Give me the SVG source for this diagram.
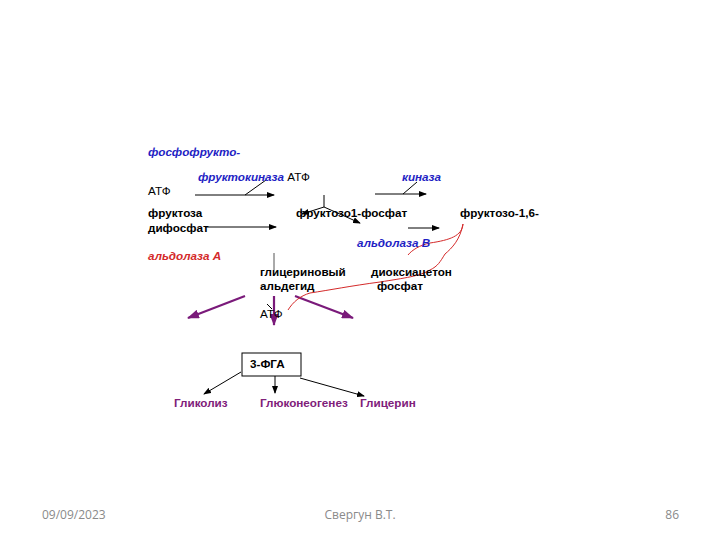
<svg xmlns="http://www.w3.org/2000/svg" width="720" height="540" viewBox="0 0 720 540">
<defs>
<style>
.t{font-family:"Liberation Sans",Arial,sans-serif;font-size:11.7px;fill:#000}
.b{font-weight:bold}
.enz{font-weight:bold;font-style:italic;fill:#1f1fc4}
.red{font-weight:bold;font-style:italic;fill:#d42a2a}
.pur{font-weight:bold;fill:#80207a}
.foot{font-family:"Open Sans","Liberation Sans",sans-serif;font-size:12px;fill:#8a8a8a}
.ln{stroke:#000;stroke-width:1;fill:none}
.pl{stroke:#7a1a7a;stroke-width:2.2;fill:none}
.rd{stroke:#d42a2a;stroke-width:1;fill:none}
</style>
<marker id="ah" markerWidth="8" markerHeight="6" refX="7" refY="3" orient="auto" markerUnits="userSpaceOnUse"><path d="M0,0 L8,3 L0,6 z" fill="#000"/></marker>
<marker id="ap" markerWidth="12" markerHeight="9" refX="11" refY="4.5" orient="auto" markerUnits="userSpaceOnUse"><path d="M0,0 L12,4.5 L0,9 z" fill="#7a1a7a"/></marker>
</defs>
<g id="connectors">
<line class="ln" x1="195" y1="195" x2="274" y2="195" marker-end="url(#ah)"/>
<line class="ln" x1="245" y1="195" x2="266" y2="180"/>
<line class="ln" x1="205" y1="227" x2="276" y2="227" marker-end="url(#ah)"/>
<line class="ln" x1="375" y1="194" x2="426" y2="194" marker-end="url(#ah)"/>
<line class="ln" x1="403" y1="194" x2="417" y2="182"/>
<line class="ln" x1="408" y1="228" x2="439" y2="228" marker-end="url(#ah)"/>
<line class="ln" x1="324" y1="195" x2="324" y2="207"/>
<line class="ln" x1="324" y1="207" x2="302" y2="214" marker-end="url(#ah)"/>
<line class="ln" x1="324" y1="207" x2="360" y2="223" marker-end="url(#ah)"/>
<line x1="274" y1="253" x2="274" y2="270" stroke="#555" stroke-width="1"/>
<line class="pl" x1="245" y1="296" x2="188" y2="318" marker-end="url(#ap)"/>
<line class="pl" x1="274" y1="296" x2="274" y2="325" marker-end="url(#ap)"/>
<line class="pl" x1="295" y1="296" x2="353" y2="318" marker-end="url(#ap)"/>
<line class="ln" x1="267" y1="304" x2="272" y2="309"/>
<path class="rd" d="M463,224 C462,236 450,240 430,243 C420,245 412,250 408,255"/>
<path class="rd" d="M463,224 C460,240 452,248 445,254 C440,262 438,266 430,270 C420,276 405,278 380,282 C350,286 330,290 310,293 C300,296 293,302 288,310"/>
<line class="ln" x1="241" y1="372" x2="204" y2="394" marker-end="url(#ah)"/>
<line class="ln" x1="275" y1="375" x2="275" y2="393" marker-end="url(#ah)"/>
<line class="ln" x1="300" y1="378" x2="364" y2="396" marker-end="url(#ah)"/>
</g>
<g id="enzymes">
<text class="t enz" x="148" y="156">фосфофрукто-</text>
<text class="t" x="198" y="181"><tspan class="enz">фруктокиназа</tspan> АТФ</text>
<text class="t enz" x="402" y="181">киназа</text>
<text class="t enz" x="357" y="247">альдолаза В</text>
<text class="t red" x="148" y="260">альдолаза А</text>
</g>
<g id="atf1"><text class="t" x="148" y="195">АТФ</text></g>
<g id="fructose"><text class="t b" x="148" y="217">фруктоза</text></g>
<g id="f1p"><text class="t b" x="296" y="217">фруктозо1-фосфат</text></g>
<g id="f16"><text class="t b" x="460" y="217">фруктозо-1,6-</text><text class="t b" x="148" y="232">дифосфат</text></g>
<g id="gald"><text class="t b" x="260" y="276">глицериновый</text><text class="t b" x="260" y="290">альдегид</text></g>
<g id="dhap"><text class="t b" x="371" y="276">диоксиацетон</text><text class="t b" x="377" y="290">фосфат</text></g>
<g id="atf2"><text class="t" x="260" y="318">АТФ</text></g>
<g id="pga"><rect x="242" y="353" width="59" height="23" fill="#fff" stroke="#000" stroke-width="1"/><text class="t b" x="250" y="368">3-ФГА</text></g>
<g id="glycolysis"><text class="t pur" x="174" y="407">Гликолиз</text></g>
<g id="gluconeo"><text class="t pur" x="260" y="407">Глюконеогенез</text></g>
<g id="glycerol"><text class="t pur" x="360" y="407">Глицерин</text></g>
<g id="footer">
<text class="foot" x="42" y="519">09/09/2023</text>
<text class="foot" x="360" y="519" text-anchor="middle">Свергун В.Т.</text>
<text class="foot" x="679" y="519" text-anchor="end">86</text>
</g>
</svg>
